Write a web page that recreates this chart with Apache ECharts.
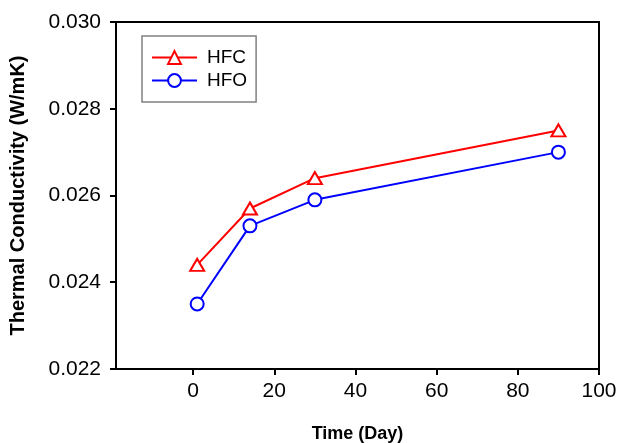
<!DOCTYPE html>
<html>
<head>
<meta charset="utf-8">
<script src="https://cdn.jsdelivr.net/npm/echarts@6/dist/echarts.min.js"></script>
<style>
  html, body { margin: 0; padding: 0; background: #fff; }
  #chart { width: 619px; height: 443px; }
</style>
</head>
<body>
<div id="chart"></div>
<script>
// Thermal conductivity of foam samples over time
const days = [1, 14, 30, 90];
const hfc = [0.0244, 0.0257, 0.0264, 0.0275];
const hfo = [0.0235, 0.0253, 0.0259, 0.0270];
const xTicks = [0, 20, 40, 60, 80, 100];

const FONT = '"Liberation Sans", Arial, sans-serif';

const chart = echarts.init(document.getElementById('chart'), null, { renderer: 'canvas' });

const pairs = (xs, ys) => xs.map((x, i) => [x, ys[i]]);

chart.setOption({
  animation: false,
  backgroundColor: '#ffffff',
  grid: {
    left: 116, right: 20, top: 22, bottom: 74,
    outerBoundsMode: 'none',
    containLabel: false,
    show: true, borderColor: '#000', borderWidth: 2, backgroundColor: 'transparent'
  },
  legend: {
    orient: 'vertical',
    left: 142, top: 36,
    padding: [12, 9, 12, 9],
    itemWidth: 45, itemHeight: 16, itemGap: 4,
    borderColor: '#808080', borderWidth: 1.5,
    textStyle: { fontFamily: FONT, fontSize: 19, lineHeight: 16, color: '#000', padding: [0, 0, 0, 5] },
    data: ['HFC', 'HFO']
  },
  xAxis: {
    type: 'value',
    min: -19, max: 100,
    name: 'Time (Day)',
    nameLocation: 'middle',
    nameGap: 56,
    nameTextStyle: { fontFamily: FONT, fontSize: 18, fontWeight: 'bold', color: '#000' },
    axisLine: { show: true, onZero: false, lineStyle: { color: '#000', width: 2 } },
    axisTick: { show: true, inside: false, length: 6, lineStyle: { color: '#000', width: 2 }, customValues: xTicks },
    axisLabel: { fontFamily: FONT, fontSize: 21, color: '#000', margin: 12, customValues: xTicks },
    splitLine: { show: false }
  },
  yAxis: {
    type: 'value',
    min: 0.022, max: 0.030, interval: 0.002,
    name: 'Thermal Conductivity (W/mK)',
    nameLocation: 'middle',
    nameGap: 88,
    nameTextStyle: { fontFamily: FONT, fontSize: 20, fontWeight: 'bold', color: '#000' },
    axisLine: { show: true, onZero: false, lineStyle: { color: '#000', width: 2 } },
    axisTick: { show: true, inside: false, length: 6, lineStyle: { color: '#000', width: 2 } },
    axisLabel: {
      fontFamily: FONT, fontSize: 21, color: '#000', margin: 15,
      formatter: v => v.toFixed(3)
    },
    splitLine: { show: false }
  },
  series: [
    {
      name: 'HFC', type: 'line',
      data: pairs(days, hfc),
      symbol: 'triangle', symbolSize: [14, 12],
      lineStyle: { color: '#ff0000', width: 2 },
      itemStyle: { color: '#ffffff', borderColor: '#ff0000', borderWidth: 2 },
      z: 3
    },
    {
      name: 'HFO', type: 'line',
      data: pairs(days, hfo),
      symbol: 'circle', symbolSize: 13,
      lineStyle: { color: '#0000ff', width: 2 },
      itemStyle: { color: '#ffffff', borderColor: '#0000ff', borderWidth: 2 },
      z: 3
    }
  ]
});
</script>
</body>
</html>
